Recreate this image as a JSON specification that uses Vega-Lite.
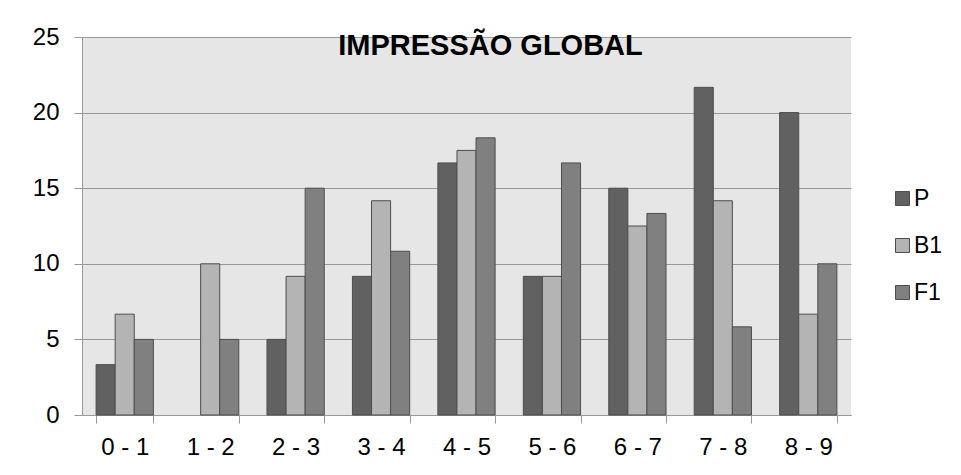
{
  "$schema": "https://vega.github.io/schema/vega-lite/v6.json",
  "autosize": {"type": "none"},
  "width": 769,
  "height": 378,
  "padding": {"left": 82, "top": 37, "right": 110, "bottom": 60},
  "background": "white",
  "title": {
    "text": "IMPRESSÃO GLOBAL",
    "font": "Liberation Sans",
    "fontSize": 29,
    "fontWeight": "bold",
    "color": "black",
    "anchor": "middle",
    "baseline": "alphabetic",
    "offset": 0,
    "dy": 59,
    "dx": 24
  },
  "data": {
    "values": [
      {"faixa": "0 - 1", "serie": "P", "valor": 3.33},
      {"faixa": "0 - 1", "serie": "B1", "valor": 6.67},
      {"faixa": "0 - 1", "serie": "F1", "valor": 5},
      {"faixa": "1 - 2", "serie": "B1", "valor": 10},
      {"faixa": "1 - 2", "serie": "F1", "valor": 5},
      {"faixa": "2 - 3", "serie": "P", "valor": 5},
      {"faixa": "2 - 3", "serie": "B1", "valor": 9.17},
      {"faixa": "2 - 3", "serie": "F1", "valor": 15},
      {"faixa": "3 - 4", "serie": "P", "valor": 9.17},
      {"faixa": "3 - 4", "serie": "B1", "valor": 14.17},
      {"faixa": "3 - 4", "serie": "F1", "valor": 10.83},
      {"faixa": "4 - 5", "serie": "P", "valor": 16.67},
      {"faixa": "4 - 5", "serie": "B1", "valor": 17.5},
      {"faixa": "4 - 5", "serie": "F1", "valor": 18.33},
      {"faixa": "5 - 6", "serie": "P", "valor": 9.17},
      {"faixa": "5 - 6", "serie": "B1", "valor": 9.17},
      {"faixa": "5 - 6", "serie": "F1", "valor": 16.67},
      {"faixa": "6 - 7", "serie": "P", "valor": 15},
      {"faixa": "6 - 7", "serie": "B1", "valor": 12.5},
      {"faixa": "6 - 7", "serie": "F1", "valor": 13.33},
      {"faixa": "7 - 8", "serie": "P", "valor": 21.67},
      {"faixa": "7 - 8", "serie": "B1", "valor": 14.17},
      {"faixa": "7 - 8", "serie": "F1", "valor": 5.83},
      {"faixa": "8 - 9", "serie": "P", "valor": 20},
      {"faixa": "8 - 9", "serie": "B1", "valor": 6.67},
      {"faixa": "8 - 9", "serie": "F1", "valor": 10}
    ]
  },
  "mark": {"type": "bar", "stroke": "#4d4d4d", "strokeWidth": 1},
  "encoding": {
    "x": {
      "field": "faixa",
      "type": "nominal",
      "sort": ["0 - 1", "1 - 2", "2 - 3", "3 - 4", "4 - 5", "5 - 6", "6 - 7", "7 - 8", "8 - 9"],
      "scale": {"paddingInner": 0.33, "paddingOuter": 0.165},
      "axis": {
        "title": null,
        "labelAngle": 0,
        "labelFont": "Liberation Sans",
        "labelFontSize": 24,
        "labelColor": "black",
        "labelPadding": 12,
        "tickBand": "extent",
        "tickSize": 8,
        "tickColor": "#999999",
        "domainColor": "#999999",
        "grid": false
      }
    },
    "xOffset": {
      "field": "serie",
      "type": "nominal",
      "sort": ["P", "B1", "F1"],
      "scale": {"paddingInner": 0, "paddingOuter": 0}
    },
    "y": {
      "field": "valor",
      "type": "quantitative",
      "scale": {"domain": [0, 25], "nice": false},
      "axis": {
        "title": null,
        "values": [0, 5, 10, 15, 20, 25],
        "labelFont": "Liberation Sans",
        "labelFontSize": 24,
        "labelColor": "black",
        "labelPadding": 15,
        "tickSize": 8,
        "tickColor": "#999999",
        "domainColor": "#999999",
        "gridColor": "#999999",
        "gridOpacity": 1
      }
    },
    "color": {
      "field": "serie",
      "type": "nominal",
      "sort": ["P", "B1", "F1"],
      "scale": {"domain": ["P", "B1", "F1"], "range": ["#616161", "#b4b4b4", "#808080"]},
      "legend": {
        "title": null,
        "orient": "none",
        "legendX": 809,
        "legendY": 150,
        "symbolType": "square",
        "symbolSize": 196,
        "symbolStrokeColor": "#4d4d4d",
        "symbolStrokeWidth": 1,
        "labelFont": "Liberation Sans",
        "labelFontSize": 23,
        "labelColor": "black",
        "labelOffset": 0,
        "rowPadding": 23
      }
    }
  },
  "config": {
    "view": {"fill": "#e6e6e6", "stroke": null}
  }
}
